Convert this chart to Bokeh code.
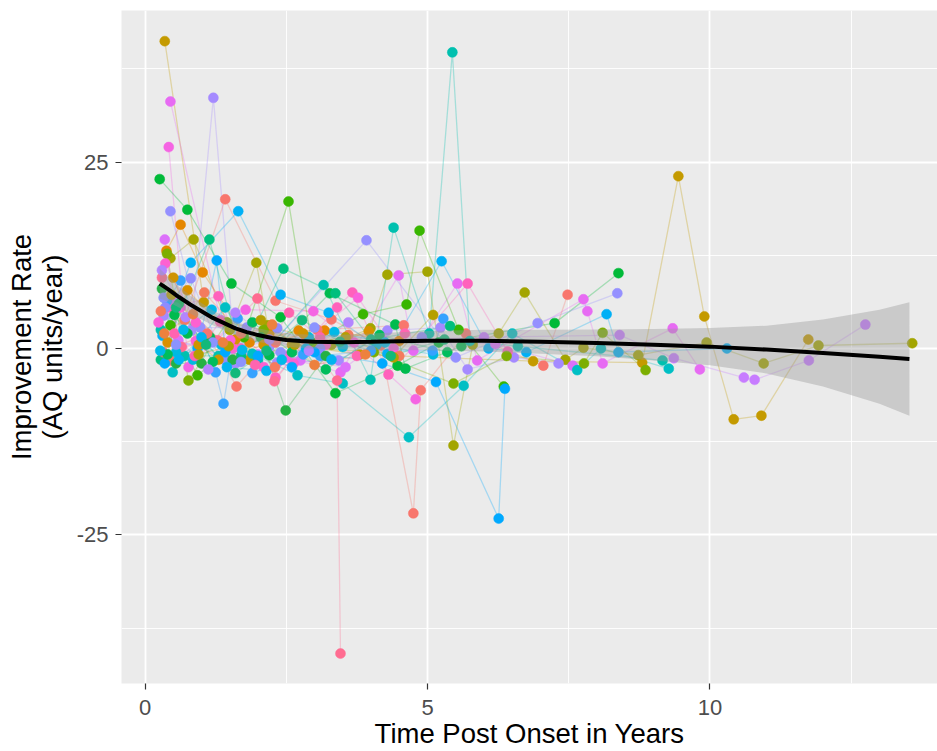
from bokeh.plotting import figure
from bokeh.models import FixedTicker, Range1d
from bokeh.embed import file_html
from bokeh.resources import INLINE

# ---------------- data ----------------
subject_colors = [
    "#C49A00", "#A3A500", "#E76BF3", "#A58AFF", "#F564E3", "#00BA38", "#9590FF", "#F8766D",
    "#00B0F6", "#E58700", "#DC71FA", "#C77CFF", "#00BFC4", "#00C0AF", "#39B600", "#FF62BC",
    "#FF6C91", "#D89000", "#00BAE0", "#7CAE00", "#35A2FF", "#00BB4E", "#00BF7D", "#FA62DB",
    "#FD61D1", "#8F8CFF", "#00A9FF", "#F8766D", "#24B144", "#CF9400", "#8B93FF", "#00B4EF",
    "#F47B5E", "#00BD5C", "#B385FF", "#FF64B0", "#00B9E8", "#B59F00", "#ED813E", "#12B97A",
]

subject_times = [
    [0.35, 1.04, 1.85, 2.6, 3.8, 6.87, 8.8, 9.44, 9.9, 10.42, 10.91, 11.74],
    [0.45, 0.86, 1.5, 1.97, 2.17, 3.3, 3.99, 4.29, 5.0, 5.46, 5.8, 6.26, 6.72, 7.44, 7.76, 8.73, 9.94, 10.95, 11.92, 13.58],
    [0.45, 1.34, 2.5, 3.46, 4.49, 4.75, 5.53, 5.88, 7.76, 7.83, 8.1, 9.34, 9.82],
    [0.33, 0.82, 1.21, 1.6, 2.34, 3.43, 4.29, 5.23, 5.71, 6.53, 7.32],
    [0.42, 0.77, 1.78, 2.98, 3.7, 4.79],
    [0.26, 0.75, 1.53, 2.4, 3.37, 4.47, 5.2, 7.25, 8.38],
    [0.45, 0.98, 1.8, 2.2, 3.92, 5.5, 6.95, 8.36],
    [0.45, 1.42, 2.31, 3.3, 4.17, 4.75, 4.88, 5.68, 7.05, 7.48],
    [0.31, 0.81, 1.65, 2.4, 3.25, 4.29, 5.25, 6.08, 6.75, 8.17, 8.38, 10.3],
    [0.38, 0.63, 1.02, 1.85, 2.72, 3.18, 4.5],
    [0.35, 0.59, 1.35, 2.1, 2.75, 3.55, 4.2, 6.2, 7.57],
    [0.5, 1.0, 2.0, 3.5, 6.0, 8.4, 9.36, 10.6, 10.79, 11.75, 12.75],
    [0.49, 1.42, 1.9, 2.7, 3.5, 4.67, 5.64, 6.5, 7.65, 8.07, 9.27],
    [0.28, 0.7, 1.3, 2.0, 3.16, 3.99, 4.4, 5.03, 5.44, 5.75, 6.6, 9.16],
    [0.45, 0.93, 1.75, 2.54, 2.95, 3.86, 4.63, 4.86, 5.55, 6.35],
    [0.42, 1.3, 1.69, 2.31, 3.4, 3.67, 4.31, 5.71, 6.42],
    [0.3, 0.65, 1.28, 1.99, 2.29, 2.85, 3.4, 3.46],
    [0.4, 0.75, 1.6, 2.2, 3.0, 3.96],
    [0.55, 0.85, 1.35, 2.9, 3.5, 4.1, 5.1],
    [0.39, 0.77, 1.45, 2.1, 3.05, 4.05, 5.46, 6.4, 7.77, 8.1, 8.86],
    [0.39, 0.63, 1.25, 1.39, 1.64, 1.9, 2.8, 3.1, 4.0, 5.09, 5.28],
    [0.52, 0.75, 1.15, 2.2, 3.27, 4.43, 4.61, 5.6],
    [0.28, 1.14, 1.7, 2.45, 3.37, 4.0, 5.4],
    [0.24, 0.63, 0.9, 1.51, 2.5, 3.77, 4.4],
    [0.36, 0.9, 1.55, 2.1, 2.63, 3.2],
    [0.36, 0.81, 1.4, 2.34, 3.1, 4.9],
    [0.35, 0.93, 1.27, 1.42, 2.0, 2.6, 3.0, 4.2, 5.15, 6.26, 6.37],
    [0.33, 1.1, 1.62, 2.31, 3.05, 4.58],
    [0.3, 0.55, 1.0, 1.55, 2.05, 2.49, 3.2],
    [0.5, 0.95, 1.3, 2.1, 2.8],
    [0.33, 0.55, 1.2, 1.7, 2.4, 3.0],
    [0.6, 1.0, 1.45, 2.15, 2.85, 3.3],
    [0.28, 0.7, 1.05, 1.7, 2.3, 3.6, 4.5],
    [0.4, 0.6, 1.2, 1.9, 2.6, 3.2, 4.15, 5.35],
    [0.3, 0.72, 1.12, 1.6, 2.2, 2.9, 3.6],
    [0.52, 0.88, 1.33, 1.95, 2.55, 3.1, 3.75, 4.6],
    [0.27, 0.68, 1.18, 1.72, 2.42, 3.35, 4.25],
    [0.47, 0.95, 1.48, 2.05, 2.65, 3.55, 4.4, 5.1],
    [0.34, 0.85, 1.38, 2.25, 3.0, 3.9],
    [0.55, 1.08, 1.6, 2.15, 2.78, 3.45, 4.35, 5.3],
]

subject_rates = [
    [41.2, 6.2, -1.5, 0.5, -0.8, -1.7, -1.9, 23.1, 4.3, -9.5, -9.0, 1.2],
    [12.1, 14.6, 2.5, 11.5, 3.1, 0.5, 2.7, 9.9, 10.3, -13.0, 0.5, 2.0, 7.5, -1.5, 0.1, -0.9, 0.8, -2.0, 0.4, 0.7],
    [33.1, 3.8, -1.2, -3.2, 9.8, -0.3, 8.7, -1.6, 6.6, 5.0, -2.0, 2.7, -2.8],
    [4.4, 2.4, 33.6, -2.0, -1.9, -1.6, 2.4, 2.8, -2.8, -1.2, -2.0],
    [27.0, -2.5, 5.2, 5.0, 0.8, -6.8],
    [22.7, 18.6, 8.7, 4.2, -6.0, -2.3, 0.8, 3.4, 10.1],
    [18.4, 2.8, 2.8, 0.2, 14.5, -1.2, 3.4, 7.4],
    [-1.6, 20.0, 6.4, 3.9, 0.4, -22.1, -5.6, 2.0, -2.3, 7.2],
    [1.7, 11.5, 18.4, 7.2, 4.8, -0.7, 11.7, 0.0, -0.5, 4.6, -0.5, 0.0],
    [13.1, 16.6, 10.2, 0.8, 2.4, 2.4, 1.0],
    [14.6, 1.1, -1.0, 1.0, -1.6, -2.5, 1.2, 0.6, -2.3],
    [6.5, 1.0, -0.8, 0.8, 1.5, 1.8, -1.3, -3.9, -4.2, -1.6, 3.2],
    [-3.2, 5.5, -0.7, -3.6, -4.7, -11.9, -5.0, 2.0, -2.9, 0.0, -2.7],
    [2.5, -1.0, -1.0, -1.6, 8.5, -4.2, 16.2, 2.0, 39.7, 1.0, 0.3, -1.6],
    [3.1, -3.6, 1.5, 19.7, 0.8, 4.6, 5.9, 15.8, 2.5, -5.1],
    [5.5, 7.0, 0.0, -3.9, 5.5, 7.5, -3.5, 8.7, -0.4],
    [9.5, 0.2, 1.1, 6.7, -4.4, 1.2, -4.3, -40.9],
    [0.8, 7.8, 1.2, 2.0, -0.3, 2.3],
    [-0.5, -1.5, 0.5, 1.5, 0.2, 0.5, -0.8],
    [12.7, -4.3, 3.5, 2.5, 0.0, -0.5, -4.7, -1.0, -2.0, 2.1, -2.9],
    [6.4, 9.1, -3.2, -7.4, 4.0, -3.3, -0.8, -1.0, -0.3, -0.3, 4.0],
    [4.5, 2.0, 1.5, -0.9, 7.4, 3.2, -2.7, 0.3],
    [-1.5, 14.6, -1.0, 10.7, 7.4, 1.2, 3.0],
    [3.5, 5.5, 1.0, 1.1, -1.0, 6.8, 0.0],
    [11.4, 3.5, 0.0, -2.5, -2.0, 0.5],
    [5.5, 9.4, -1.5, 2.7, 0.0, 1.5],
    [-2.0, 0.0, 11.8, -0.5, -1.0, -2.5, -0.5, -2.0, -4.5, -22.8, -5.4],
    [-0.5, 2.0, -5.1, 0.8, 2.5, 3.1],
    [8.0, -2.0, -2.0, -1.5, 1.5, -8.3, -1.0],
    [9.5, 0.5, -1.5, 0.5, 2.0],
    [6.8, 0.5, 0.8, -1.8, -0.5, 2.8],
    [-1.5, 1.5, -2.5, -3.0, 0.0, -1.5],
    [5.0, 3.8, 7.5, 2.0, -2.5, 1.8, -1.0],
    [-0.8, 6.0, -1.8, 3.5, -0.5, -2.8, 1.8, -0.5],
    [10.5, 4.2, -2.8, 4.8, 1.2, -0.3, 3.5],
    [2.0, -1.0, 3.6, -2.2, 4.8, 1.5, -1.0, 2.0],
    [-0.3, 2.5, 5.2, -0.2, -1.5, 2.2, 0.8],
    [7.2, -0.8, 0.3, 3.8, 0.5, 1.5, -1.2, 4.5],
    [2.0, 4.6, 0.8, 3.2, -2.2, -0.8],
    [5.5, 0.5, -3.3, -0.3, 3.8, 0.9, -1.0, 1.2],
]

# smoothed trend and its standard-error half width
smooth_x = [0.26, 0.4, 0.6, 0.8, 1.0, 1.2, 1.4, 1.6, 1.8, 2.0, 2.25, 2.5, 2.75, 3.0, 3.5, 4.0, 5.0, 6.0, 7.0, 8.0, 9.0, 10.0, 11.0, 12.0, 13.0, 13.53]
smooth_y = [8.7, 8.0, 6.9, 5.9, 5.0, 4.1, 3.4, 2.7, 2.2, 1.8, 1.4, 1.15, 1.0, 0.9, 0.85, 0.9, 1.05, 1.05, 0.9, 0.75, 0.5, 0.25, -0.15, -0.6, -1.1, -1.4]
smooth_se = [2.0, 1.7, 1.4, 1.2, 1.1, 1.0, 0.95, 0.92, 0.9, 0.9, 0.9, 0.9, 0.92, 0.95, 1.0, 1.1, 1.3, 1.45, 1.6, 1.8, 2.1, 2.5, 3.2, 4.5, 6.3, 7.6]

x_ticks = [0, 5, 10]
x_minor = [2.5, 7.5, 12.5]
y_ticks = [-25, 0, 25]
y_minor = [-37.5, -12.5, 12.5, 37.5]
y_tick_text = {-25: "-25", 0: "0", 25: "25"}

x_title = "Time Post Onset in Years"
y_title = "Improvement Rate\n(AQ units/year)"

# ---------------- figure ----------------
p = figure(width=937, height=751,
           x_range=Range1d(-0.416, 14.027), y_range=Range1d(-44.91, 45.31),
           output_backend="svg", toolbar_location=None,
           min_border_left=121, min_border_right=0, min_border_top=10, min_border_bottom=68)
p.background_fill_color = "#EBEBEB"
p.border_fill_color = "white"
p.outline_line_color = None

p.xaxis.ticker = FixedTicker(ticks=x_ticks, minor_ticks=x_minor)
p.yaxis.ticker = FixedTicker(ticks=y_ticks, minor_ticks=y_minor)
p.yaxis.major_label_overrides = y_tick_text
for ax in (p.xaxis[0], p.yaxis[0]):
    ax.axis_line_color = None
    ax.major_tick_line_color = "#333333"
    ax.major_tick_line_width = 1.2
    ax.major_tick_out = 6
    ax.major_tick_in = 0
    ax.minor_tick_line_color = None
    ax.major_label_text_font = "Liberation Sans"
    ax.major_label_text_font_size = "22px"
    ax.major_label_text_color = "#4D4D4D"
    ax.axis_label_text_font = "Liberation Sans"
    ax.axis_label_text_font_size = "27.5px"
    ax.axis_label_text_font_style = "normal"
    ax.axis_label_text_color = "black"
p.xaxis.major_label_standoff = 10
p.yaxis.major_label_standoff = 7
p.xaxis.axis_label = x_title
p.yaxis.axis_label = y_title
p.xaxis.axis_label_standoff = 0
p.yaxis.axis_label_standoff = 6
p.yaxis.axis_label_text_line_height = 1.0
p.xaxis.axis_label_text_line_height = 0.8

p.grid.grid_line_color = "white"
p.grid.grid_line_width = 1.8
p.grid.minor_grid_line_color = "white"
p.grid.minor_grid_line_width = 0.9

# subject trajectories
p.multi_line(xs=subject_times, ys=subject_rates, line_color=subject_colors,
             line_alpha=0.3, line_width=1.3)

pt_x, pt_y, pt_c = [], [], []
for ts, rs, c in zip(subject_times, subject_rates, subject_colors):
    pt_x += ts
    pt_y += rs
    pt_c += [c] * len(ts)
p.scatter(x=pt_x, y=pt_y, fill_color=pt_c, line_color=pt_c, size=10, line_width=0.5)

# smooth with SE ribbon
lo = [m - s for m, s in zip(smooth_y, smooth_se)]
hi = [m + s for m, s in zip(smooth_y, smooth_se)]
p.varea(x=smooth_x, y1=lo, y2=hi, fill_color="#999999", fill_alpha=0.4)
p.line(x=smooth_x, y=smooth_y, line_color="black", line_width=4)

open("out.html", "w").write(file_html(p, INLINE))
